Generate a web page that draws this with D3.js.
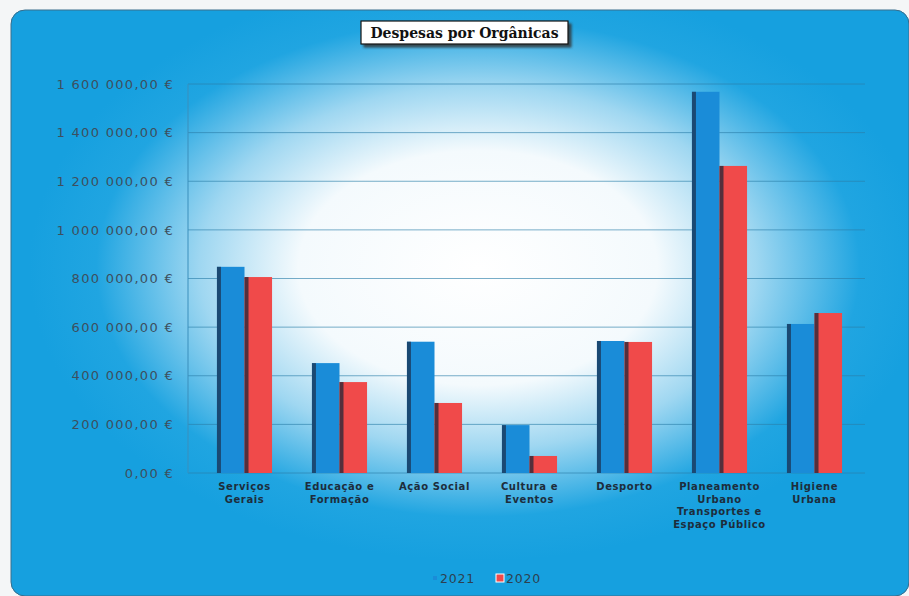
<!DOCTYPE html>
<html>
<head>
<meta charset="utf-8">
<script src="https://cdn.jsdelivr.net/npm/d3@7"></script>
<style>
html,body{margin:0;padding:0;background:#f4f6f7;}
svg{display:block;}
</style>
</head>
<body>
<div id="chart"></div>
<script>
const categories = ["Serviços Gerais","Educação e Formação","Ação Social","Cultura e Eventos","Desporto","Planeamento Urbano Transportes e Espaço Público","Higiene Urbana"];
const categoryLines = [["Serviços","Gerais"],["Educação e","Formação"],["Ação Social"],["Cultura e","Eventos"],["Desporto"],["Planeamento","Urbano","Transportes e","Espaço Público"],["Higiene","Urbana"]];
const series = ["2021","2020"];
const values2021 = [848000, 452000, 540000, 197000, 543000, 1568000, 613000];
const values2020 = [806000, 374000, 288000, 70000, 539000, 1263000, 658000];
const yTicks = [0,200000,400000,600000,800000,1000000,1200000,1400000,1600000];
const title = "Despesas por Orgânicas";

const W = 909, H = 596;
const svg = d3.select("#chart").append("svg").attr("width", W).attr("height", H);
const defs = svg.append("defs");
const rg = defs.append("radialGradient").attr("id","glow").attr("cx","0.52").attr("cy","0.44").attr("r","0.5");
rg.append("stop").attr("offset","0").attr("stop-color","#ffffff");
rg.append("stop").attr("offset","0.4").attr("stop-color","#f4fafd");
rg.append("stop").attr("offset","0.62").attr("stop-color","#9fd7f1");
rg.append("stop").attr("offset","0.85").attr("stop-color","#20a5e1");
rg.append("stop").attr("offset","1").attr("stop-color","#16a0df");
const sh = defs.append("filter").attr("id","sh").attr("x","-10%").attr("y","-30%").attr("width","130%").attr("height","180%");
sh.append("feDropShadow").attr("dx",3).attr("dy",3).attr("stdDeviation",1.2).attr("flood-color","#333").attr("flood-opacity",0.8);

// panel
svg.append("rect").attr("x",11).attr("y",10).attr("width",W-11).attr("height",H-10).attr("rx",14)
  .attr("fill","#17a3e0");
svg.append("rect").attr("x",11).attr("y",10).attr("width",W-11).attr("height",H-10).attr("rx",14)
  .attr("fill","url(#glow)").attr("stroke","#3a6e8c").attr("stroke-width",1);

const x = d3.scaleBand().domain(categories).range([197, 862]).paddingInner(0.42).paddingOuter(0.21);
const y = d3.scaleLinear().domain([0,1600000]).range([473, 84]);
const x1 = d3.scaleBand().domain(series).range([0, x.bandwidth()]);

const fmt = v => d3.format(",.2f")(v).replace(/,/g," ").replace(".",",") + " €";

// gridlines
const g = svg.append("g");
g.selectAll("line.grid").data(yTicks).join("line").attr("class","grid")
  .attr("x1",188).attr("x2",865).attr("y1",d=>y(d)).attr("y2",d=>y(d))
  .attr("stroke","#2a7ea8").attr("stroke-width",0.9).attr("opacity",0.7);
g.append("line").attr("x1",188).attr("x2",188).attr("y1",y(1600000)).attr("y2",y(0))
  .attr("stroke","#3a8fbc").attr("stroke-width",1);

// y axis
const yAxis = d3.axisLeft(y).tickValues(yTicks).tickFormat(fmt).tickSize(0).tickPadding(0);
const ya = svg.append("g").attr("transform","translate(174,0)").call(yAxis);
ya.select(".domain").remove();
ya.selectAll("text").attr("font-family","'DejaVu Sans', sans-serif").attr("font-size",13)
  .attr("letter-spacing","1.3px").attr("fill","#3d4f5e");

// bars
const colors = {"2021":"#1a8cd8","2020":"#f04a4a"};
const edges = {"2021":"#1b3d62","2020":"#3a2a3a"};
const data = [];
categories.forEach((c,i)=>{
  data.push({cat:c, s:"2021", v:values2021[i]});
  data.push({cat:c, s:"2020", v:values2020[i]});
});
const bars = svg.append("g");
bars.selectAll("rect.bar").data(data).join("rect").attr("class","bar")
  .attr("x",d=>x(d.cat)+x1(d.s)).attr("y",d=>y(d.v))
  .attr("width",x1.bandwidth()).attr("height",d=>y(0)-y(d.v))
  .attr("fill",d=>colors[d.s]);
bars.selectAll("rect.edge").data(data).join("rect").attr("class","edge")
  .attr("x",d=>x(d.cat)+x1(d.s)).attr("y",d=>y(d.v))
  .attr("width",4).attr("height",d=>y(0)-y(d.v))
  .attr("fill",d=>edges[d.s]).attr("opacity",0.85);

// category labels
const lab = svg.append("g");
categories.forEach((c,i)=>{
  const cx = x(c)+x.bandwidth()/2;
  const t = lab.append("text").attr("x", cx).attr("y",490)
    .attr("text-anchor","middle").attr("font-family","'DejaVu Sans', sans-serif")
    .attr("font-size",10).attr("letter-spacing","0.6px").attr("font-weight","bold").attr("fill","#1d2d3c");
  categoryLines[i].forEach((ln,j)=>{
    t.append("tspan").attr("x", cx).attr("dy", j===0?0:12.5).text(ln);
  });
});

// title
const tg = svg.append("g");
tg.append("rect").attr("x",361).attr("y",21).attr("width",207).attr("height",23)
  .attr("fill","#ffffff").attr("stroke","#111").attr("stroke-width",1.2).attr("filter","url(#sh)");
tg.append("text").attr("x",464.5).attr("y",38).attr("text-anchor","middle")
  .attr("font-family","'DejaVu Serif', serif").attr("font-weight","bold").attr("font-size",14)
  .attr("fill","#111").text(title);

// legend
const lg = svg.append("g");
const legendX = {"2021":440,"2020":506};
series.forEach(s=>{
  lg.append("rect").attr("x",legendX[s]-(s==="2021"?7:10)).attr("y",s==="2021"?576:574).attr("width",s==="2021"?4:8).attr("height",s==="2021"?4:8)
    .attr("fill",colors[s]).attr("stroke",s==="2020"?"#ffffff":"none").attr("stroke-width",1);
  lg.append("text").attr("x",legendX[s]).attr("y",583).attr("font-family","'DejaVu Sans', sans-serif")
    .attr("font-size",12.5).attr("letter-spacing","0.8px").attr("fill","#2d4050").text(s);
});
</script>
</body>
</html>
